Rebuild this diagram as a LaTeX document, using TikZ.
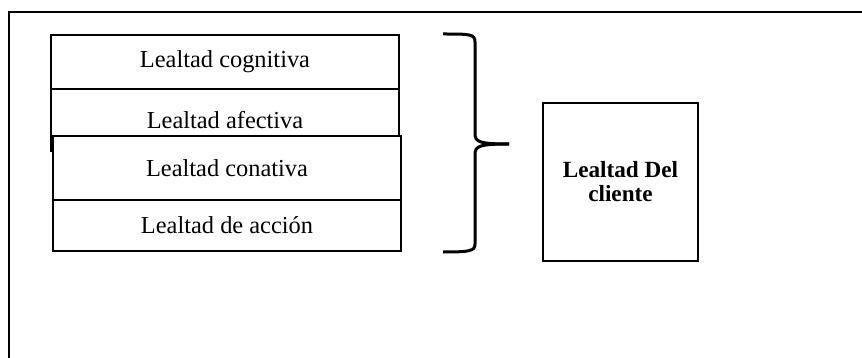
\documentclass[tikz,border=0pt]{standalone}
\usepackage{fontspec}
\setmainfont{Liberation Serif}
\begin{document}
\begin{tikzpicture}[x=0.5pt,y=-0.5pt,
  frame/.style={line width=1pt},
  layer/.style={draw,line width=1pt,fill=white,minimum width=174pt,inner sep=0pt,
    font=\fontsize{12.2}{14}\selectfont},
  result/.style={draw,line width=1pt,fill=white,minimum width=77.5pt,minimum height=79pt,
    inner sep=0pt,align=center,font=\fontsize{11.6}{12}\selectfont\bfseries},
  bracestyle/.style={line width=1.5pt}]
\useasboundingbox (0,0) rectangle (862,358);
\draw[frame] (9,358) -- (9,12) -- (862,12);
\node[layer,minimum height=27pt] (cog) at (225,62) {Lealtad cognitiva};
\node[layer,minimum height=31pt] (afe) at (225,120) {Lealtad afectiva};
\node[layer,minimum height=32pt] (con) at (227,168) {Lealtad conativa};
\node[layer,minimum height=25.5pt] (acc) at (227,225.5) {Lealtad de acción};
\node[result] (cli) at (620.5,182) {Lealtad Del\\cliente};
\coordinate (btop) at (443,34);
\coordinate (btip) at (509,144);
\coordinate (bbot) at (443,252);
\draw[bracestyle] (btop) .. controls (470,34) and (475,34) .. (475,42) -- (475,134)
  .. controls (475,142) and (480,144) .. (btip);
\draw[bracestyle] (btip) .. controls (480,144) and (475,146) .. (475,154) -- (475,244)
  .. controls (475,251) and (470,252) .. (bbot);
\end{tikzpicture}
\end{document}
